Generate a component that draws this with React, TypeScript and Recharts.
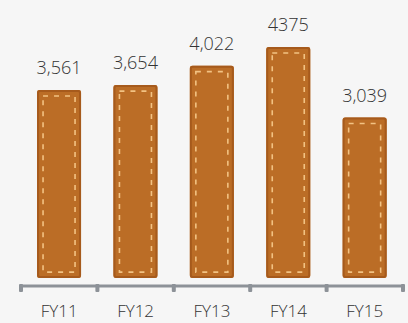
import { BarChart, Bar, XAxis, YAxis, LabelList } from 'recharts'

const years = ['FY11', 'FY12', 'FY13', 'FY14', 'FY15']
const revenue = [3561, 3654, 4022, 4375, 3039]
const valueLabels = ['3,561', '3,654', '4,022', '4375', '3,039']

const data = years.map((year, i) => ({
  year,
  revenue: revenue[i],
  label: valueLabels[i],
}))

const FONT = '"Open Sans", "Noto Sans", sans-serif'

function StitchedBar(props: any) {
  const { x, y, width, height } = props
  if (!height || height <= 0) return null
  const inset = 6
  return (
    <g>
      <rect x={x} y={y} width={width} height={height} fill="#bb6d26" rx={2} />
      <rect
        x={x + 1}
        y={y + 1}
        width={width - 2}
        height={height - 2}
        fill="none"
        stroke="#a65a1c"
        strokeWidth={2}
        rx={2}
      />
      <rect
        x={x + inset}
        y={y + inset}
        width={width - inset * 2}
        height={height - inset * 2}
        fill="none"
        stroke="#f2c283"
        strokeWidth={1.6}
        strokeDasharray="5 6"
      />
    </g>
  )
}

function RailTick(props: any) {
  const { x, y, payload, index, width, visibleTicksCount } = props
  const half = width / visibleTicksCount / 2
  const last = index === visibleTicksCount - 1
  return (
    <g>
      <rect x={x - half - 2} y={y - 2} width={4} height={8} fill="#8d9298" rx={1} />
      {last && <rect x={x + half - 2} y={y - 2} width={4} height={8} fill="#8d9298" rx={1} />}
      <text
        x={x}
        y={y + 31}
        textAnchor="middle"
        fill="#333333"
        fontSize={17}
        fontWeight={300}
        fontFamily={FONT}
      >
        {payload.value}
      </text>
    </g>
  )
}

export default function App() {
  return (
    <div
      style={{
        position: 'absolute',
        top: 0,
        left: 0,
        width: 408,
        height: 323,
        background: '#f6f6f6',
      }}
    >
      <BarChart
        width={408}
        height={323}
        data={data}
        margin={{ top: 14, right: 5, left: 21, bottom: 0 }}
        barCategoryGap="21%"
        style={{ overflow: 'visible' }}
      >
        <YAxis hide domain={[-150, 5000]} />
        <XAxis
          dataKey="year"
          height={37}
          interval={0}
          axisLine={{ stroke: '#8d9298', strokeWidth: 3 }}
          tickLine={false}
          tickSize={0}
          tickMargin={0}
          tick={<RailTick />}
        />
        <Bar dataKey="revenue" shape={<StitchedBar />} isAnimationActive={false}>
          <LabelList
            dataKey="label"
            position="top"
            offset={16}
            fill="#333333"
            fontSize={18}
            fontWeight={300}
            fontFamily={FONT}
          />
        </Bar>
      </BarChart>
    </div>
  )
}
